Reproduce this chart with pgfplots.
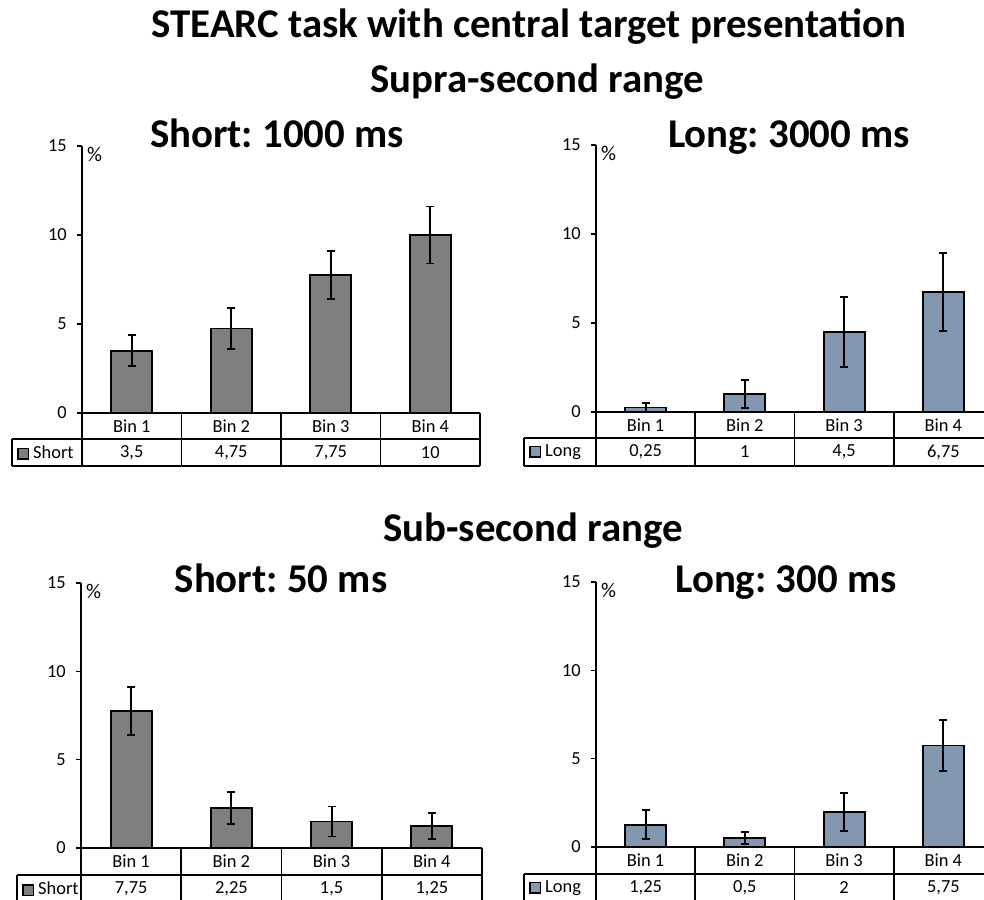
\documentclass[border=0pt]{standalone}
\usepackage{pgfplots}
\pgfplotsset{compat=1.18}
\usepackage{fontspec}
\setmainfont{Carlito}
\frenchspacing
\definecolor{barGray}{HTML}{7F7F7F}
\definecolor{barBlue}{HTML}{8497B0}
\newcommand{\tfont}{\fontsize{41}{44}\selectfont\bfseries}
\newcommand{\lfont}{\fontsize{18.5}{20}\selectfont}
\pgfplotsset{
  panel/.style={
    scale only axis, clip=false,
    xmin=0.5, xmax=4.5, ymin=0, ymax=15,
    axis x line*=bottom, axis y line*=left,
    axis line style={-, line width=1.6bp},
    ytick={0,5,10,15}, xtick=\empty,
    tick align=outside, major tick length=5bp,
    tick style={line width=1.4bp, black},
    /pgf/number format/assume math mode=true,
    yticklabel style={font=\lfont, inner sep=0pt, xshift=-10bp},
    ybar, bar width=41bp,
  },
  bars/.style={draw=black, line width=1.8bp, fill=#1,
    error bars/.cd, y dir=both, y explicit,
    error bar style={line width=1.9bp, black},
    error mark options={rotate=90, mark size=4bp, line width=1.9bp, black}},
}
\tikzset{tbl/.style={line width=1.6bp, black}}
% #1 legend cell width, #2 legend text, #3 colour, #4-#7 values, #8 row1 height, #9 total height
\newcommand{\drawtable}[9]{%
  \pgfplotsinvokeforeach{0.5,1.5,2.5,3.5,4.5}{\draw[tbl] (axis cs:##1,0) -- ([yshift=-#9]axis cs:##1,0);}
  \draw[tbl] ([xshift=-#1,yshift=-#8]axis cs:0.5,0) -- ([yshift=-#8]axis cs:4.5,0);
  \draw[tbl] ([xshift=-#1,yshift=-#9]axis cs:0.5,0) -- ([yshift=-#9]axis cs:4.5,0);
  \draw[tbl] ([xshift=-#1,yshift=-#8]axis cs:0.5,0) -- ([xshift=-#1,yshift=-#9]axis cs:0.5,0);
  \node[font=\lfont, anchor=west, inner sep=0pt] at ([xshift=-#1+5bp,yshift=-#8/2-#9/2]axis cs:0.5,0)
    {{\setlength{\fboxsep}{0pt}\setlength{\fboxrule}{1.5bp}\fcolorbox{black}{#3}{\rule{0pt}{9bp}\rule{9bp}{0pt}}}\hspace{4bp}#2};
  \node[font=\lfont] at ([yshift=-#8/2]axis cs:1,0) {Bin 1};
  \node[font=\lfont] at ([yshift=-#8/2]axis cs:2,0) {Bin 2};
  \node[font=\lfont] at ([yshift=-#8/2]axis cs:3,0) {Bin 3};
  \node[font=\lfont] at ([yshift=-#8/2]axis cs:4,0) {Bin 4};
  \node[font=\lfont] at ([yshift=-#8/2-#9/2]axis cs:1,0) {#4};
  \node[font=\lfont] at ([yshift=-#8/2-#9/2]axis cs:2,0) {#5};
  \node[font=\lfont] at ([yshift=-#8/2-#9/2]axis cs:3,0) {#6};
  \node[font=\lfont] at ([yshift=-#8/2-#9/2]axis cs:4,0) {#7};
  \node[font=\fontsize{21}{22}\selectfont, anchor=north west, inner sep=0pt] at ([xshift=5bp,yshift=-1bp]rel axis cs:0,1) {\%};
}
\begin{document}
\begin{tikzpicture}
\useasboundingbox (0,0) rectangle (984bp,-900bp);
\fill[white] (0,0) rectangle (984bp,-900bp);
\node[anchor=base,font=\tfont] at (529bp,-37bp) {STEARC task with central target presentation};
\node[anchor=base,font=\tfont] at (537bp,-92bp) {Supra-second range};
\node[anchor=base,font=\tfont] at (277bp,-147bp) {Short: 1000 ms};
\node[anchor=base,font=\tfont] at (789bp,-147bp) {Long: 3000 ms};
\node[anchor=base,font=\tfont] at (533bp,-541bp) {Sub-second range};
\node[anchor=base,font=\tfont] at (281bp,-592bp) {Short: 50 ms};
\node[anchor=base,font=\tfont] at (786bp,-592bp) {Long: 300 ms};

% Top left
\begin{axis}[panel, width=398bp, height=267bp, at={(82bp,-413bp)}, anchor=south west]
\addplot[bars=barGray] table[x=x,y=y,y error=e] {
x y e
1 3.5 0.88
2 4.75 1.15
3 7.75 1.35
4 10 1.6
};
\drawtable{70bp}{Short}{barGray}{3,5}{4,75}{7,75}{10}{26bp}{53bp}
\end{axis}

% Top right
\begin{axis}[panel, width=397bp, height=267bp, at={(596bp,-412bp)}, anchor=south west]
\addplot[bars=barBlue] table[x=x,y=y,y error=e] {
x y e
1 0.25 0.25
2 1 0.8
3 4.5 1.95
4 6.75 2.2
};
\drawtable{72bp}{Long}{barBlue}{0,25}{1}{4,5}{6,75}{26bp}{54bp}
\end{axis}

% Bottom left
\begin{axis}[panel, width=401bp, height=265bp, at={(81bp,-848bp)}, anchor=south west]
\addplot[bars=barGray] table[x=x,y=y,y error=e] {
x y e
1 7.75 1.37
2 2.25 0.9
3 1.5 0.85
4 1.25 0.72
};
\drawtable{64bp}{Short}{barGray}{7,75}{2,25}{1,5}{1,25}{27bp}{55bp}
\end{axis}

% Bottom right
\begin{axis}[panel, width=397bp, height=265bp, at={(596bp,-847bp)}, anchor=south west]
\addplot[bars=barBlue] table[x=x,y=y,y error=e] {
x y e
1 1.25 0.82
2 0.5 0.35
3 2 1.07
4 5.75 1.43
};
\drawtable{72bp}{Long}{barBlue}{1,25}{0,5}{2}{5,75}{27bp}{55bp}
\end{axis}
\end{tikzpicture}
\end{document}
